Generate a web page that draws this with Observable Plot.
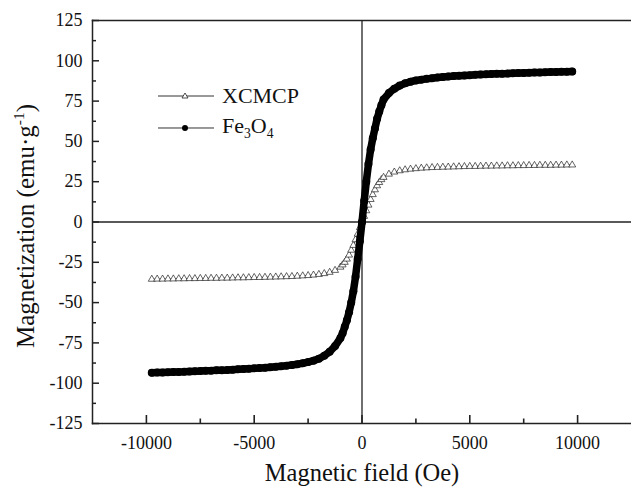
<!DOCTYPE html>
<html><head><meta charset="utf-8">
<script src="https://cdn.jsdelivr.net/npm/d3@7"></script>
<script src="https://cdn.jsdelivr.net/npm/@observablehq/plot@0.6"></script>
<style>
body{margin:0;background:#fff;}
#wrap{position:relative;width:631px;height:490px;font-family:"Liberation Serif","DejaVu Serif",serif;color:#111;overflow:hidden;}
#wrap svg text{font-family:"Liberation Serif","DejaVu Serif",serif;}
.ylab{position:absolute;left:25px;top:226px;transform:translate(-50%,-50%) rotate(-90deg);font-size:25px;white-space:nowrap;}
.xlab{position:absolute;left:362px;top:473px;transform:translate(-50%,-50%);font-size:24.5px;white-space:nowrap;}
.leg{position:absolute;left:158px;transform:translateY(-50%);font-size:22px;display:flex;align-items:center;white-space:nowrap;line-height:1;}
.leg svg{margin-right:8px;}
sup,sub{font-size:0.62em;}
</style></head>
<body>
<div id="wrap"></div>
<script>
// Magnetic field (Oe)
const field = [-9750,-9500,-9250,-9000,-8750,-8500,-8250,-8000,-7750,-7500,-7250,-7000,-6750,-6500,-6250,-6000,-5750,-5500,-5250,-5000,-4750,-4500,-4250,-4000,-3750,-3500,-3250,-3000,-2750,-2500,-2250,-2000,-1750,-1500,-1250,-1000,-900,-800,-700,-600,-500,-400,-300,-200,-100,0,100,200,300,400,500,600,700,800,900,1000,1250,1500,1750,2000,2250,2500,2750,3000,3250,3500,3750,4000,4250,4500,4750,5000,5250,5500,5750,6000,6250,6500,6750,7000,7250,7500,7750,8000,8250,8500,8750,9000,9250,9500,9750];
// Magnetization (emu/g), Fe3O4
const fe3o4 = [-93.5,-93.4,-93.3,-93.2,-93.1,-93.0,-92.9,-92.7,-92.6,-92.5,-92.3,-92.2,-92.0,-91.9,-91.8,-91.6,-91.4,-91.2,-91.0,-90.8,-90.6,-90.4,-90.1,-89.8,-89.5,-89.1,-88.7,-88.2,-87.6,-86.9,-86.0,-84.8,-83.0,-80.5,-77.0,-72.0,-69,-65,-61,-56,-50,-43,-34,-23,-12,0,13,25,36,45,52,58,64,68.5,72.5,76,80,82.7,84.6,86,87,87.8,88.3,88.8,89.2,89.6,89.9,90.2,90.5,90.7,90.9,91.1,91.3,91.5,91.6,91.8,91.9,92.0,92.1,92.3,92.4,92.5,92.6,92.7,92.8,92.9,93.0,93.1,93.2,93.2,93.3];
// Magnetization (emu/g), XCMCP
const xcmcp = [-35.5,-35.4,-35.4,-35.3,-35.3,-35.2,-35.2,-35.1,-35.1,-35.0,-35.0,-34.9,-34.9,-34.8,-34.8,-34.7,-34.6,-34.6,-34.5,-34.4,-34.4,-34.3,-34.2,-34.1,-34.0,-33.9,-33.8,-33.6,-33.4,-33.2,-32.9,-32.5,-32.0,-31.2,-30.0,-28.0,-26.6,-25,-23,-20.5,-17.5,-14.5,-11,-7.5,-3.5,0,3.5,7,10.5,14,17,20,22.5,24.5,26.3,27.7,29.7,31,31.8,32.4,32.8,33.1,33.4,33.6,33.8,33.9,34.0,34.1,34.2,34.3,34.4,34.5,34.5,34.6,34.7,34.7,34.8,34.8,34.9,34.9,35.0,35.0,35.1,35.1,35.2,35.2,35.2,35.3,35.3,35.4,35.4];
// axis ticks
const xTickLabels = [-10000,-5000,0,5000,10000];
const xMinorTicks = [-7500,-2500,2500,7500];
const yTickLabels = [-125,-100,-75,-50,-25,0,25,50,75,100,125];
const yMinorTicks = [-112.5,-87.5,-62.5,-37.5,-12.5,12.5,37.5,62.5,87.5,112.5];
const seriesNames = ["XCMCP","Fe3O4"];

const feData = field.map((h,i)=>({h, m: fe3o4[i]}));
const xcData = field.map((h,i)=>({h, m: xcmcp[i]}));

const W = 631, H = 490, mT = 20, mB = 67, mL = 92, mR = 0;
const axisCol = "#222";
const chart = Plot.plot({
  width: W, height: H,
  marginTop: mT, marginBottom: mB, marginLeft: mL, marginRight: mR,
  x: {domain: [-12500, 12500]},
  y: {domain: [-125, 125]},
  style: {fontFamily: "'Liberation Serif','DejaVu Serif',serif", fontSize: "18px", color: "#111", background: "#fff"},
  marks: [
    Plot.frame({anchor: "left", stroke: axisCol, strokeWidth: 1.5}),
    Plot.frame({anchor: "top", stroke: axisCol, strokeWidth: 1.5}),
    Plot.frame({anchor: "bottom", stroke: axisCol, strokeWidth: 1.5}),
    Plot.ruleX([0], {stroke: axisCol, strokeWidth: 1.3}),
    Plot.ruleY([0], {stroke: axisCol, strokeWidth: 1.3}),
    Plot.axisY({ticks: yTickLabels, tickSize: 7, dx: 7, text: null, label: null, stroke: axisCol, strokeWidth: 1.5}),
    Plot.axisY({ticks: yMinorTicks, tickSize: 4, dx: 4, text: null, label: null, stroke: axisCol, strokeWidth: 1.5}),
    Plot.axisX({ticks: xTickLabels, tickSize: 8, dy: -8, text: null, label: null, stroke: axisCol, strokeWidth: 1.6}),
    Plot.axisX({ticks: xMinorTicks, tickSize: 4.5, dy: -4.5, text: null, label: null, stroke: axisCol, strokeWidth: 1.6}),
    Plot.axisY({ticks: yTickLabels, tickSize: 0, tickPadding: 10, tickFormat: d => String(d), label: null, fontSize: 18}),
    Plot.axisX({ticks: xTickLabels, tickSize: 0, tickPadding: 13, tickFormat: d => String(d), label: null, fontSize: 18}),
    Plot.line(xcData, {x: "h", y: "m", stroke: "#555", strokeWidth: 1}),
    Plot.dot(xcData, {x: "h", y: "m", symbol: "triangle", r: 2.6, fill: "#fff", stroke: "#222", strokeWidth: 0.7}),
    Plot.line(feData, {x: "h", y: "m", stroke: "#000", strokeWidth: 7.5, strokeLinecap: "round", strokeLinejoin: "round"}),
    Plot.dot(feData, {x: "h", y: "m", r: 4, fill: "#000"})
  ]
});
const wrap = document.getElementById("wrap");
wrap.appendChild(chart);

const ylab = document.createElement("div");
ylab.className = "ylab";
ylab.innerHTML = "Magnetization (emu·g<sup>-1</sup>)";
wrap.appendChild(ylab);
const xlab = document.createElement("div");
xlab.className = "xlab";
xlab.textContent = "Magnetic field (Oe)";
wrap.appendChild(xlab);

function legendRow(top, swatch, html){
  const d = document.createElement("div");
  d.className = "leg";
  d.style.top = top + "px";
  d.innerHTML = swatch + "<span>" + html + "</span>";
  wrap.appendChild(d);
}
legendRow(96, '<svg width="56" height="12"><line x1="0" y1="6" x2="56" y2="6" stroke="#333" stroke-width="1"/><path d="M27,3 L30,8 L24,8 Z" fill="#fff" stroke="#222" stroke-width="0.8"/></svg>', seriesNames[0]);
legendRow(128, '<svg width="56" height="12"><line x1="0" y1="6" x2="56" y2="6" stroke="#333" stroke-width="1"/><circle cx="27" cy="6" r="3" fill="#000"/></svg>', "Fe<sub>3</sub>O<sub>4</sub>");
</script>
</body></html>
